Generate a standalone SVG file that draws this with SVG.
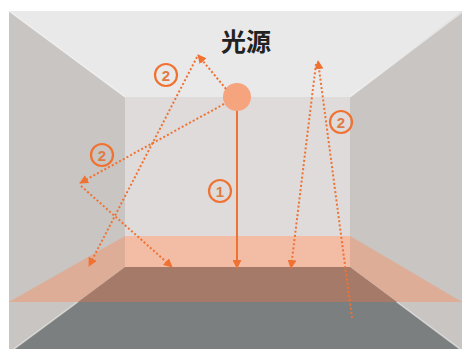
<svg xmlns="http://www.w3.org/2000/svg" width="462" height="349" viewBox="0 0 462 349">
  <style>
    .ray { fill: none; stroke: #f07232; stroke-width: 2; stroke-dasharray: 2 2.2; }
    .direct { fill: none; stroke: #f07232; stroke-width: 2; }
    .edge { stroke: #ffffff; stroke-opacity: 0.55; stroke-width: 1.5; fill: none; }
    .num circle { fill: none; stroke: #f07232; stroke-width: 2.2; }
    .num text { font-family: "Liberation Sans", Arial, sans-serif; font-size: 15px; font-weight: bold; fill: #e07a45; text-anchor: middle; }
    .title { font-family: "Noto Sans CJK SC", "Noto Sans CJK JP", sans-serif; font-size: 25px; font-weight: bold; fill: #222222; text-anchor: middle; }
    .plane-side { fill: #ddad97; }
  </style>
  <defs>
    <marker id="arrow" viewBox="0 0 10 10" refX="9" refY="5" markerWidth="9" markerHeight="9" markerUnits="userSpaceOnUse" orient="auto">
      <path d="M0,0 L10,5 L0,10 z" fill="#f07232"/>
    </marker>
  </defs>

  <!-- room shell -->
  <g id="room">
    <rect x="9" y="11" width="453" height="338" fill="#c8c5c2"/>
    <polygon points="9,11 462,11 350,97 125,97" fill="#e9e9e9"/>
    <rect x="125" y="97" width="225" height="170" fill="#dedbda"/>
    <polygon points="125,267 350,267 460,349 14,349" fill="#7c7f7f"/>
    <line class="edge" x1="9" y1="11" x2="125" y2="97"/>
    <line class="edge" x1="462" y1="12" x2="350" y2="97"/>
    <line class="edge" x1="125" y1="267" x2="14" y2="349"/>
    <line class="edge" x1="350" y1="267" x2="460" y2="349"/>
  </g>

  <!-- work plane, shaded per surface it crosses -->
  <g id="plane">
    <rect x="125" y="236" width="225" height="31" fill="#f2bca5"/>
    <polygon class="plane-side" points="9,302 125,236 125,267 78,302"/>
    <polygon class="plane-side" points="350,236 462,302 397,302 350,267"/>
    <polygon points="125,267 350,267 397,302 78,302" fill="#a67a68"/>
  </g>

  <!-- light source -->
  <g id="light">
    <circle cx="237" cy="97" r="14" fill="#f5a47e"/>
  </g>

  <g id="title">
    <text class="title" x="246" y="51">光源</text>
  </g>

  <!-- light paths -->
  <g id="connectors">
    <line class="direct" x1="237" y1="111" x2="237" y2="268" marker-end="url(#arrow)"/>
    <line class="ray" x1="226" y1="89" x2="198" y2="55" marker-end="url(#arrow)"/>
    <line class="ray" x1="197" y1="57" x2="89" y2="266" marker-end="url(#arrow)"/>
    <line class="ray" x1="224" y1="104" x2="80" y2="183" marker-end="url(#arrow)"/>
    <line class="ray" x1="81" y1="186" x2="172" y2="267" marker-end="url(#arrow)"/>
    <line class="ray" x1="352" y1="318" x2="318" y2="61" marker-end="url(#arrow)"/>
    <line class="ray" x1="316" y1="64" x2="291" y2="268" marker-end="url(#arrow)"/>
  </g>

  <!-- path labels -->
  <g id="label-1" class="num">
    <circle cx="220" cy="191" r="11"/>
    <text x="220" y="196.5">1</text>
  </g>
  <g id="label-2a" class="num">
    <circle cx="166" cy="75" r="11"/>
    <text x="166" y="80.5">2</text>
  </g>
  <g id="label-2b" class="num">
    <circle cx="102" cy="155" r="11"/>
    <text x="102" y="160.5">2</text>
  </g>
  <g id="label-2c" class="num">
    <circle cx="341" cy="122" r="11"/>
    <text x="341" y="127.5">2</text>
  </g>
</svg>
